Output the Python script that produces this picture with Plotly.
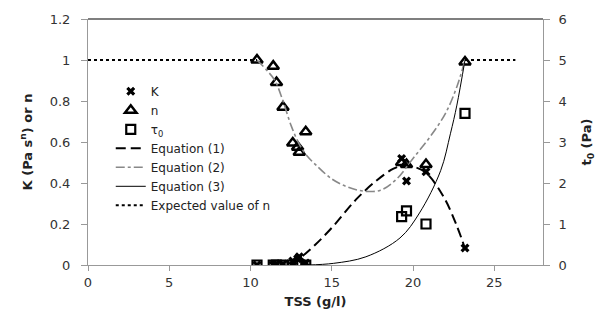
import plotly.graph_objects as go

# Measured data
tss = [10.4, 11.4, 11.6, 12.0, 12.6, 12.9, 13.0, 13.4, 19.3, 19.6, 20.8, 23.2]
K_vals = [0.0, 0.0, 0.002, 0.005, 0.02, 0.03, 0.04, 0.01, 0.52, 0.41, 0.455, 0.083]
n_vals = [1.0, 0.97, 0.89, 0.77, 0.595, 0.575, 0.55, 0.65, 0.50, 0.49, 0.49, 0.99]
tau_vals = [0, 0, 0, 0, 0, 0, 0, 0, 1.18, 1.32, 1.0, 3.7]

# Fitted curves
eq1_x = [12.5, 13.0, 14.0, 15.1, 16.5, 17.8, 18.8, 19.4, 20.0, 20.8, 21.9, 22.7, 23.2]
eq1_y = [0.0, 0.03, 0.10, 0.19, 0.32, 0.415, 0.47, 0.485, 0.48, 0.45, 0.33, 0.19, 0.08]

eq2_x = [10.4, 11.0, 11.5, 12.0, 12.5, 13.0, 13.5, 14.0, 15.0, 16.0, 17.0, 18.0, 19.0, 20.0, 21.0, 22.0, 22.7, 23.2]
eq2_y = [1.0, 0.95, 0.90, 0.80, 0.68, 0.59, 0.53, 0.49, 0.42, 0.38, 0.36, 0.365, 0.42, 0.52, 0.62, 0.74, 0.87, 1.0]

eq3_x = [13.5, 15.1, 17.1, 19.2, 20.4, 21.7, 22.3, 22.7, 23.2]
eq3_y = [0.0, 0.04, 0.2, 0.66, 1.27, 2.3, 3.2, 3.9, 5.0]

exp_x = [0, 10.4, None, 23.2, 26.3]
exp_y = [1, 1, None, 1, 1]

fig = go.Figure()
fig.add_trace(go.Scatter(x=tss, y=K_vals, mode="markers", name="K",
                         marker=dict(symbol="x", size=8, color="black")))
fig.add_trace(go.Scatter(x=tss, y=n_vals, mode="markers", name="n",
                         marker=dict(symbol="triangle-up-open", size=10, color="black",
                                     line=dict(width=2.5, color="black"))))
fig.add_trace(go.Scatter(x=tss, y=tau_vals, mode="markers", name="τ<sub>0</sub>", yaxis="y2",
                         marker=dict(symbol="square-open", size=9, color="black",
                                     line=dict(width=2.2, color="black"))))
fig.add_trace(go.Scatter(x=eq1_x, y=eq1_y, mode="lines", name="Equation (1)",
                         line=dict(color="black", width=2, dash="10px,5px", shape="spline")))
fig.add_trace(go.Scatter(x=eq2_x, y=eq2_y, mode="lines", name="Equation (2)",
                         line=dict(color="#888888", width=1.6, dash="dashdot", shape="spline")))
fig.add_trace(go.Scatter(x=eq3_x, y=eq3_y, mode="lines", name="Equation (3)", yaxis="y2",
                         line=dict(color="black", width=1, shape="spline")))
fig.add_trace(go.Scatter(x=exp_x, y=exp_y, mode="lines", name="Expected value of n",
                         line=dict(color="black", width=2, dash="dot")))

font_fam = "DejaVu Sans, Verdana, sans-serif"
fig.update_layout(
    width=605, height=322,
    margin=dict(l=88, r=62, t=19, b=57),
    paper_bgcolor="white", plot_bgcolor="white",
    font=dict(family=font_fam, color="#333333", size=13),
    showlegend=True,
    legend=dict(x=0.05, y=0.765, xanchor="left", yanchor="top",
                bgcolor="rgba(0,0,0,0)", font=dict(size=12, color="#222222"),
                tracegroupgap=0, itemwidth=30),
    xaxis=dict(range=[0, 28], tickvals=[0, 5, 10, 15, 20, 25], showgrid=False,
               zeroline=False, showline=True, linecolor="#999999", linewidth=1,
               ticks="outside", ticklen=5, tickcolor="#999999",
               tickfont=dict(size=13, color="#333333"),
               title=dict(text="<b>TSS (g/l)</b>", font=dict(size=13, color="#222222"), standoff=8),
               mirror=False),
    yaxis=dict(range=[0, 1.2], tickvals=[0, 0.2, 0.4, 0.6, 0.8, 1.0, 1.2],
               ticktext=["0", "0.2", "0.4", "0.6", "0.8", "1", "1.2"],
               showgrid=False, zeroline=False, showline=True, linecolor="#999999",
               ticks="outside", ticklen=6, tickcolor="#999999", ticklabelstandoff=8,
               tickfont=dict(size=13, color="#333333"),
               title=dict(text="<b>K (Pa s<sup>n</sup>) or n</b>", font=dict(size=13, color="#222222"), standoff=14)),
    yaxis2=dict(range=[0, 6], tickvals=[0, 1, 2, 3, 4, 5, 6], overlaying="y", side="right",
                showgrid=False, zeroline=False, showline=True, linecolor="#999999",
                ticks="outside", ticklen=6, tickcolor="#999999", ticklabelstandoff=6,
                tickfont=dict(size=13, color="#333333"),
                title=dict(text="<b>t<sub>0</sub> (Pa)</b>", font=dict(size=13, color="#222222"), standoff=16)),
)
# top border line of plot area
fig.add_shape(type="line", xref="paper", yref="paper", x0=0, x1=1, y0=1, y1=1,
              line=dict(color="#555555", width=1.5))

fig.write_html("out.html")
